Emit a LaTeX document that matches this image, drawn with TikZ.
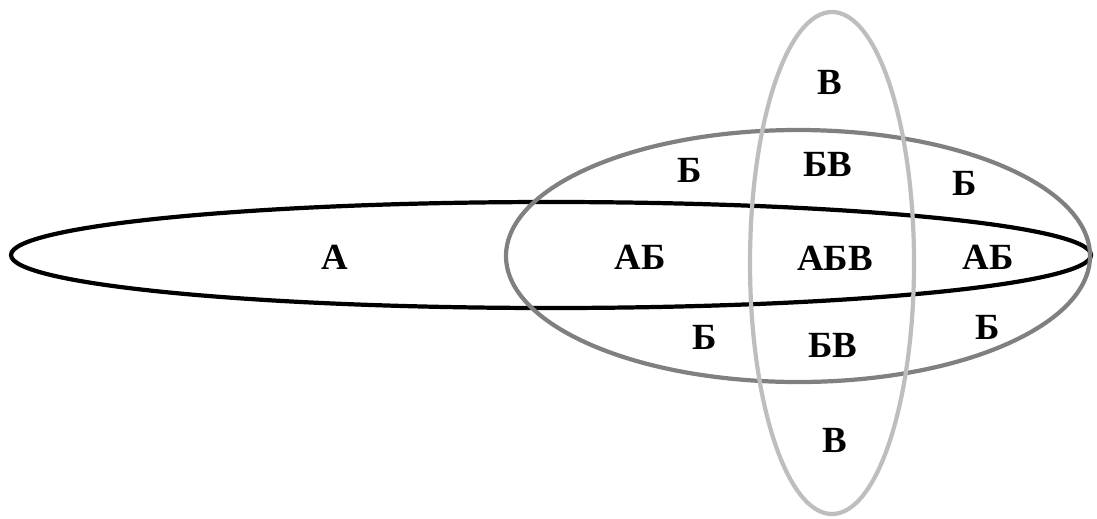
\documentclass[tikz,border=0pt]{standalone}
\usepackage{fontspec}
\setmainfont{Liberation Serif}
\definecolor{setB}{RGB}{128,128,128}
\definecolor{setV}{RGB}{190,190,190}
\tikzset{lbl/.style={font=\fontsize{21}{24}\selectfont\bfseries, inner sep=1pt}}

\begin{document}
\begin{tikzpicture}[x=0.02cm,y=-0.02cm]
    \useasboundingbox (0,0) rectangle (1097,518);
    \def\w{2.4pt}
    \draw[line width=\w, black] (551,255) ellipse (540 and 53);
    \draw[line width=\w, setB] (798,256) ellipse (292 and 126);
    \draw[line width=\w, setV] (832,263) ellipse (82 and 251);
    \foreach \n/\x/\y/\t in {a/335/257/А, ab1/640/257/АБ, abv/835/258/АБВ, ab2/988/257/АБ,
        b1/690/170/Б, bv1/828/164/БВ, b2/965/183/Б,
        b3/705/337/Б, bv2/833/345/БВ, b4/988/327/Б,
        v1/830/82/В, v2/835/440/В}
      \node[lbl] (\n) at (\x,\y) {\t};
  \end{tikzpicture}
\end{document}
